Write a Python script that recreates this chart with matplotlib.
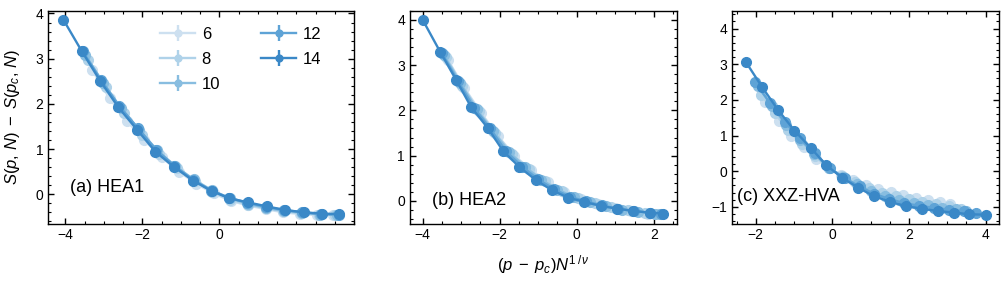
import numpy as np
import matplotlib
matplotlib.use("Agg")
import matplotlib.pyplot as plt
from matplotlib.ticker import MultipleLocator, AutoMinorLocator

plt.rcParams['font.family'] = ['Liberation Sans', 'DejaVu Sans']
plt.rcParams['mathtext.fontset'] = 'custom'
plt.rcParams['mathtext.rm'] = 'Liberation Sans'
plt.rcParams['mathtext.it'] = 'Liberation Sans:italic'
plt.rcParams['mathtext.bf'] = 'Liberation Sans:bold'
plt.rcParams['font.size'] = 10

sizes = [6, 8, 10, 12, 14]
colors = ['#cde0f0', '#afd2e9', '#88bde0', '#5ea3d6', '#3a88c7']

# panel (a) HEA1
xa = {
    6: [-3.30, -2.85, -2.40, -1.95, -1.50, -1.05, -0.60, -0.15, 0.30, 0.75, 1.20, 1.65, 2.10, 2.55, 2.95],
    8: [-3.40, -2.95, -2.48, -2.02, -1.56, -1.10, -0.64, -0.18, 0.28, 0.74, 1.20, 1.66, 2.12, 2.58, 3.00],
    10: [-3.48, -3.02, -2.55, -2.08, -1.61, -1.14, -0.67, -0.20, 0.27, 0.74, 1.21, 1.68, 2.15, 2.62, 3.05],
    12: [-3.55, -3.08, -2.60, -2.12, -1.64, -1.17, -0.69, -0.21, 0.26, 0.73, 1.21, 1.68, 2.16, 2.64, 3.10],
    14: [-4.05, -3.57, -3.09, -2.62, -2.14, -1.66, -1.19, -0.68, -0.20, 0.26, 0.74, 1.24, 1.71, 2.19, 2.67, 3.10],
}
ya = {
    6: [2.74, 2.12, 1.62, 1.20, 0.82, 0.50, 0.23, 0.02, -0.15, -0.25, -0.33, -0.40, -0.44, -0.46, -0.47],
    8: [2.96, 2.37, 1.80, 1.32, 0.90, 0.57, 0.29, 0.05, -0.12, -0.23, -0.31, -0.38, -0.42, -0.45, -0.46],
    10: [3.08, 2.47, 1.90, 1.42, 0.97, 0.62, 0.33, 0.09, -0.09, -0.21, -0.30, -0.37, -0.41, -0.45, -0.46],
    12: [3.16, 2.53, 1.95, 1.47, 0.98, 0.63, 0.32, 0.08, -0.08, -0.19, -0.28, -0.35, -0.40, -0.44, -0.45],
    14: [3.86, 3.16, 2.50, 1.92, 1.43, 0.94, 0.61, 0.30, 0.07, -0.09, -0.18, -0.27, -0.35, -0.40, -0.43, -0.44],
}

# panel (b) HEA2
xb = {
    6: [-3.35, -2.92, -2.48, -2.05, -1.62, -1.18, -0.75, -0.32, 0.12, 0.55, 0.98, 1.42, 1.85],
    8: [-3.40, -2.97, -2.54, -2.11, -1.68, -1.25, -0.82, -0.39, 0.04, 0.47, 0.90, 1.33, 1.76, 2.10],
    10: [-3.45, -3.02, -2.60, -2.18, -1.76, -1.34, -0.92, -0.50, -0.08, 0.34, 0.76, 1.18, 1.60, 2.02],
    12: [-3.50, -3.08, -2.67, -2.25, -1.84, -1.42, -1.01, -0.59, -0.18, 0.24, 0.65, 1.07, 1.48, 1.90, 2.20],
    14: [-4.00, -3.55, -3.13, -2.74, -2.30, -1.91, -1.49, -1.06, -0.65, -0.22, 0.19, 0.62, 1.04, 1.45, 1.89, 2.25],
}
yb = {
    6: [3.12, 2.50, 1.94, 1.44, 1.00, 0.68, 0.42, 0.20, 0.05, -0.07, -0.16, -0.23, -0.29],
    8: [3.18, 2.54, 1.98, 1.49, 1.03, 0.70, 0.43, 0.22, 0.06, -0.05, -0.14, -0.21, -0.26, -0.29],
    10: [3.22, 2.60, 2.02, 1.55, 1.08, 0.75, 0.47, 0.25, 0.09, -0.02, -0.12, -0.19, -0.24, -0.28],
    12: [3.26, 2.64, 2.06, 1.60, 1.10, 0.76, 0.48, 0.26, 0.09, -0.01, -0.10, -0.17, -0.22, -0.26, -0.28],
    14: [4.00, 3.30, 2.67, 2.07, 1.60, 1.10, 0.75, 0.46, 0.24, 0.07, -0.02, -0.11, -0.17, -0.22, -0.26, -0.28],
}

# panel (c) XXZ-HVA
xc = {
    6: [-1.75, -1.40, -1.08, -0.75, -0.42, -0.10, 0.22, 0.55, 0.88, 1.20, 1.52, 1.85, 2.18, 2.50, 2.82, 3.08],
    8: [-1.85, -1.50, -1.15, -0.80, -0.45, -0.10, 0.25, 0.60, 0.95, 1.30, 1.65, 2.00, 2.35, 2.70, 3.05, 3.35],
    10: [-1.95, -1.58, -1.21, -0.84, -0.47, -0.10, 0.27, 0.64, 1.01, 1.38, 1.75, 2.12, 2.49, 2.86, 3.23, 3.50],
    12: [-2.02, -1.63, -1.24, -0.85, -0.46, -0.07, 0.32, 0.71, 1.10, 1.49, 1.88, 2.27, 2.66, 3.05, 3.44, 3.75],
    14: [-2.25, -1.84, -1.42, -0.99, -0.56, -0.16, 0.26, 0.67, 1.08, 1.51, 1.92, 2.33, 2.76, 3.17, 3.58, 4.01],
}
yc = {
    6: [1.95, 1.40, 0.98, 0.68, 0.35, 0.08, -0.10, -0.25, -0.40, -0.50, -0.58, -0.66, -0.74, -0.80, -0.87, -0.93],
    8: [2.15, 1.62, 1.16, 0.76, 0.42, 0.09, -0.13, -0.31, -0.48, -0.60, -0.70, -0.79, -0.86, -0.93, -0.99, -1.05],
    10: [2.40, 1.83, 1.30, 0.87, 0.48, 0.10, -0.16, -0.37, -0.56, -0.70, -0.81, -0.89, -0.95, -1.02, -1.07, -1.11],
    12: [2.49, 1.92, 1.38, 0.92, 0.50, 0.09, -0.20, -0.43, -0.64, -0.78, -0.90, -0.97, -1.03, -1.08, -1.13, -1.17],
    14: [3.05, 2.37, 1.72, 1.14, 0.65, 0.17, -0.19, -0.46, -0.70, -0.86, -0.98, -1.05, -1.12, -1.16, -1.21, -1.22],
}

err = 0.02

fig = plt.figure(figsize=(10.07, 2.83), dpi=100)
ax1 = fig.add_axes([0.0477, 0.210, 0.3039, 0.752])
ax2 = fig.add_axes([0.4071, 0.210, 0.2651, 0.752])
ax3 = fig.add_axes([0.7269, 0.210, 0.2651, 0.752])

panels = [(ax1, xa, ya, '(a) HEA1', (0.072, 0.17)),
          (ax2, xb, yb, '(b) HEA2', (0.082, 0.11)),
          (ax3, xc, yc, '(c) XXZ-HVA', (0.02, 0.127))]

for ax, xs, ys, title, pos in panels:
    for n, c in zip(sizes, colors):
        ax.errorbar(xs[n], ys[n], yerr=err, color=c, marker='o', ms=7,
                    lw=1.7, elinewidth=1.7, capsize=0, label=str(n))
    ax.text(pos[0], pos[1], title, transform=ax.transAxes, fontsize=13,
            va='center', ha='left')
    ax.tick_params(which='both', direction='in', top=True, right=True, labelsize=10)
    ax.tick_params(which='major', length=4, width=1)
    ax.tick_params(which='minor', length=2.2, width=0.8)
    ax.xaxis.set_minor_locator(MultipleLocator(0.5))
    ax.yaxis.set_minor_locator(AutoMinorLocator(5))
    for s in ax.spines.values():
        s.set_linewidth(1)

ax1.set_xlim(-4.45, 3.5)
ax1.set_ylim(-0.65, 4.06)
ax1.set_xticks([-4, -2, 0])
ax1.set_yticks([0, 1, 2, 3, 4])
ax2.set_xlim(-4.33, 2.6)
ax2.set_ylim(-0.5, 4.2)
ax2.set_xticks([-4, -2, 0, 2])
ax3.set_xlim(-2.62, 4.35)
ax3.set_ylim(-1.47, 4.5)
ax3.set_xticks([-2, 0, 2, 4])

ax1.set_ylabel(r'$S(p,\,N)\;-\;S(p_c,\,N)$', fontsize=12)
ax1.yaxis.set_label_coords(-0.085, 0.5)
ax2.set_xlabel(r'$(p\;-\;p_c)N^{1\,/\,\nu}$', fontsize=12, labelpad=8)

ax1.legend(ncol=2, frameon=False, fontsize=12, loc='upper left',
           bbox_to_anchor=(0.317, 0.995), handlelength=2.1, handletextpad=0.4,
           columnspacing=2.45, labelspacing=0.6, markerscale=0.7)

fig.savefig('out.png', dpi=100)
